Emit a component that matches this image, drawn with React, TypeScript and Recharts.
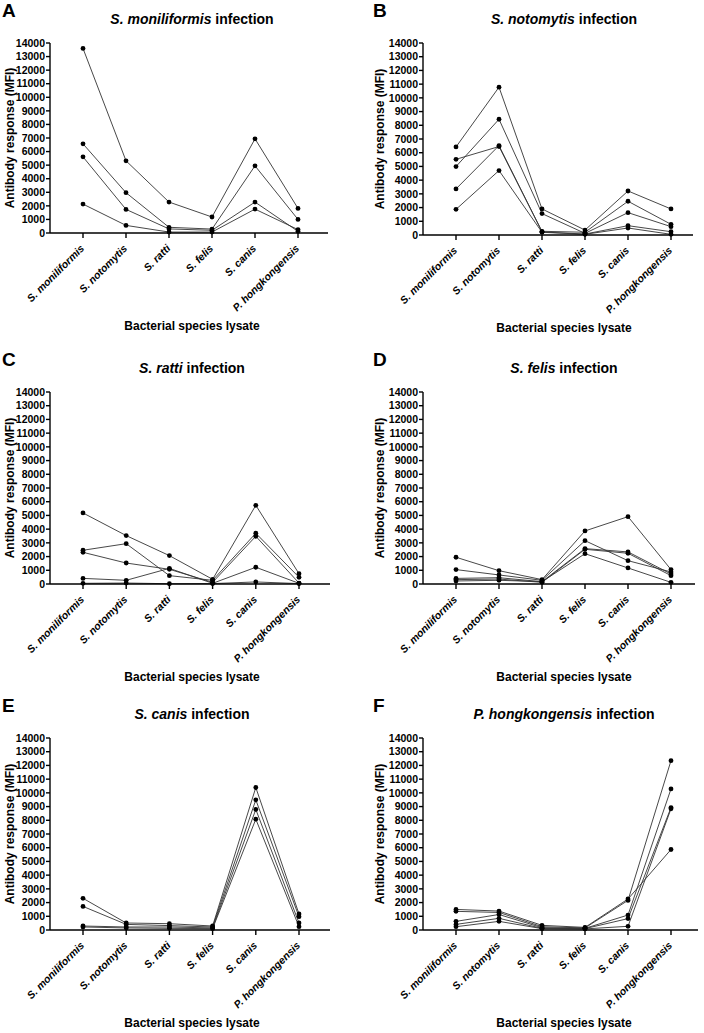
import React from 'react';
import { LineChart, Line, XAxis, YAxis } from 'recharts';

const lysates = ['S. moniliformis', 'S. notomytis', 'S. ratti', 'S. felis', 'S. canis', 'P. hongkongensis'];
const yTicks = [0, 1000, 2000, 3000, 4000, 5000, 6000, 7000, 8000, 9000, 10000, 11000, 12000, 13000, 14000];

// one row per animal, values in lysate order
const moniliformisInfection = [
  [13600, 5320, 2280, 1180, 6940, 1810],
  [6570, 2970, 420, 290, 4950, 1000],
  [5610, 1740, 300, 200, 2280, 120],
  [2130, 560, 70, 70, 1760, 250],
];
const notomytisInfection = [
  [6420, 10780, 1900, 360, 3210, 1900],
  [5520, 6450, 270, 200, 2460, 780],
  [4990, 8440, 1560, 120, 1630, 610],
  [3360, 6520, 220, 70, 680, 240],
  [1870, 4700, 200, 50, 510, 50],
];
const rattiInfection = [
  [5180, 3530, 2070, 340, 5740, 750],
  [2460, 2940, 610, 270, 3700, 490],
  [2310, 1530, 1070, 120, 3480, 70],
  [410, 270, 1140, 50, 1220, 50],
  [50, 70, 20, 30, 150, 30],
];
const felisInfection = [
  [1950, 970, 320, 3870, 4910, 1050],
  [1050, 660, 270, 3160, 1700, 880],
  [410, 460, 170, 2580, 2340, 730],
  [320, 360, 120, 2530, 2240, 610],
  [220, 270, 170, 2210, 1170, 120],
];
const canisInfection = [
  [2310, 510, 460, 290, 10390, 1170],
  [1720, 410, 320, 220, 9490, 970],
  [290, 220, 220, 150, 8790, 510],
  [220, 150, 120, 100, 8080, 240],
];
const hongkongensisInfection = [
  [1500, 1380, 340, 190, 2260, 5870],
  [1360, 1280, 240, 150, 2160, 12350],
  [630, 1130, 170, 120, 1090, 10290],
  [410, 850, 120, 100, 830, 8930],
  [240, 630, 100, 80, 270, 8840],
];

const FONT = '"Liberation Sans", Arial, sans-serif';

const toRows = (series: number[][]) =>
  lysates.map((name, i) => {
    const row: any = { name };
    series.forEach((s, k) => { row[`a${k}`] = s[i]; });
    return row;
  });

const XTick = ({ x, y, payload }: any) => (
  <g transform={`translate(${x + 2},${y + 9})`}>
    <text textAnchor="end" transform="rotate(-45)" fontSize={10.5} fontWeight="bold"
      fontStyle="italic" fill="#000" fontFamily={FONT}>
      {payload.value}
    </text>
  </g>
);

interface PanelProps {
  letter: string;
  species: string;
  series: number[][];
  col: number;
  plotLeft: number;
  plotRight: number;
  plotTop: number;
  plotBottom: number;
  padRight: number;
}

const Panel = ({ letter, species, series, col, plotLeft, plotRight, plotTop, plotBottom, padRight }: PanelProps) => {
  const data = toRows(series);
  const chartLeft = plotLeft - 50;
  const chartTop = plotTop - 10;
  const width = plotRight - chartLeft + 4;
  const height = plotBottom - chartTop + 100;
  const centerX = col === 0 ? 192 : 564;
  const letterX = col === 0 ? 2 : 373;
  const yLabelX = col === 0 ? 10 : 380;
  const txt: React.CSSProperties = { position: 'absolute', fontFamily: FONT, fontWeight: 'bold', color: '#000', whiteSpace: 'nowrap', lineHeight: 1 };
  return (
    <>
      <div style={{ ...txt, left: letterX, top: plotTop - 42, fontSize: 19 }}>{letter}</div>
      <div style={{ ...txt, left: centerX, top: plotTop - 24, fontSize: 14, transform: 'translate(-50%,-50%)' }}>
        <i>{species}</i> infection
      </div>
      <div style={{ ...txt, left: yLabelX, top: (plotTop + plotBottom) / 2, fontSize: 12, transform: 'translate(-50%,-50%) rotate(-90deg)' }}>
        Antibody response (MFI)
      </div>
      <div style={{ ...txt, left: centerX, top: plotBottom + 93, fontSize: 12, transform: 'translate(-50%,-50%)' }}>
        Bacterial species lysate
      </div>
      <div style={{ position: 'absolute', left: chartLeft, top: chartTop }}>
        <LineChart width={width} height={height} data={data}
          margin={{ top: 10, right: 4, bottom: 0, left: 0 }}>
          <XAxis dataKey="name" type="category" interval={0} padding={{ left: 33, right: padRight }}
            axisLine={{ stroke: '#000', strokeWidth: 1.4 }} tickLine={{ stroke: '#000', strokeWidth: 1.4 }}
            tickSize={5} tick={<XTick />} height={100} />
          <YAxis domain={[0, 14000]} ticks={yTicks} interval={0} width={50}
            axisLine={{ stroke: '#000', strokeWidth: 1.4 }} tickLine={{ stroke: '#000', strokeWidth: 1.4 }}
            tickSize={4} tickMargin={1}
            tick={{ fontSize: 10.5, fontWeight: 'bold', fill: '#000', fontFamily: FONT }} />
          {series.map((_, k) => (
            <Line key={k} dataKey={`a${k}`} stroke="#333" strokeWidth={0.9}
              dot={{ r: 2.4, fill: '#000', stroke: 'none' }} isAnimationActive={false} />
          ))}
        </LineChart>
      </div>
    </>
  );
};

export default function App() {
  return (
    <div style={{ position: 'relative', width: 704, height: 1033, background: '#fff' }}>
      <style>{'body{margin:0}'}</style>
      <Panel letter="A" species="S. moniliformis" series={moniliformisInfection} col={0}
        plotLeft={50} plotRight={328} plotTop={43} plotBottom={233} padRight={30} />
      <Panel letter="B" species="S. notomytis" series={notomytisInfection} col={1}
        plotLeft={423} plotRight={693} plotTop={43} plotBottom={235} padRight={22} />
      <Panel letter="C" species="S. ratti" series={rattiInfection} col={0}
        plotLeft={50} plotRight={330} plotTop={392} plotBottom={584} padRight={31} />
      <Panel letter="D" species="S. felis" series={felisInfection} col={1}
        plotLeft={423} plotRight={695} plotTop={392} plotBottom={584} padRight={24} />
      <Panel letter="E" species="S. canis" series={canisInfection} col={0}
        plotLeft={50} plotRight={330} plotTop={738} plotBottom={930} padRight={31} />
      <Panel letter="F" species="P. hongkongensis" series={hongkongensisInfection} col={1}
        plotLeft={423} plotRight={698} plotTop={738} plotBottom={930} padRight={27} />
    </div>
  );
}
